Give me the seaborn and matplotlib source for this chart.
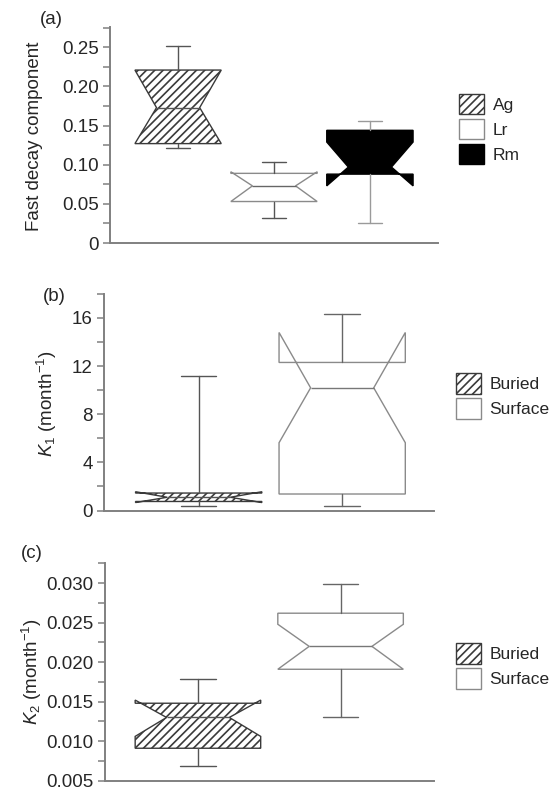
"""
Notched box plots of litter decay parameters, three stacked panels.
"""

import matplotlib

matplotlib.use("Agg")
import matplotlib.pyplot as plt
import seaborn as sns
from matplotlib.patches import Patch
from matplotlib.ticker import FuncFormatter, MultipleLocator

FIG_W, FIG_H = 555, 791
FONT_SIZE = 13.5
LEGEND_SIZE = 12.5

# (a) fast decay component per species
SPECIES = ["Ag", "Lr", "Rm"]
A_WHISLO = [0.122, 0.032, 0.026]
A_Q1 = [0.127, 0.053, 0.088]
A_CILO = [0.127, 0.053, 0.073]
A_MED = [0.173, 0.073, 0.097]
A_CIHI = [0.221, 0.091, 0.129]
A_Q3 = [0.221, 0.089, 0.144]
A_WHISHI = [0.252, 0.104, 0.156]

# (b) K1 and (c) K2 per litter position
POSITIONS = ["Buried", "Surface"]
B_WHISLO = [0.37, 0.37]
B_Q1 = [0.75, 1.37]
B_CILO = [0.66, 5.63]
B_MED = [1.10, 10.19]
B_CIHI = [1.56, 14.79]
B_Q3 = [1.45, 12.30]
B_WHISHI = [11.16, 16.30]

C_WHISLO = [0.0069, 0.0131]
C_Q1 = [0.0091, 0.0191]
C_CILO = [0.0106, 0.0191]
C_MED = [0.0130, 0.0220]
C_CIHI = [0.0152, 0.0248]
C_Q3 = [0.0148, 0.0262]
C_WHISHI = [0.0179, 0.0299]

STYLES = {
    "Ag": dict(facecolor="white", hatch="////", edgecolor="#3a3a3a", median="#555555", whisker="#555555"),
    "Lr": dict(facecolor="white", hatch=None, edgecolor="#8a8a8a", median="#666666", whisker="#555555"),
    "Rm": dict(facecolor="black", hatch=None, edgecolor="black", median="black", whisker="#9a9a9a"),
    "Buried": dict(facecolor="white", hatch="////", edgecolor="#3a3a3a", median="#555555", whisker="#555555"),
    "Surface": dict(facecolor="white", hatch=None, edgecolor="#8a8a8a", median="#777777", whisker="#666666"),
}


def px_axes(fig, left, top, right, bottom):
    return fig.add_axes([left / FIG_W, 1 - bottom / FIG_H, (right - left) / FIG_W, (bottom - top) / FIG_H])


def draw_boxes(ax, groups, whislo, q1, cilo, med, cihi, q3, whishi, width):
    stats = [
        dict(label=g, whislo=wl, q1=a, cilo=cl, med=m, cihi=ch, q3=b, whishi=wh, fliers=[])
        for g, wl, a, cl, m, ch, b, wh in zip(groups, whislo, q1, cilo, med, cihi, q3, whishi)
    ]
    art = ax.bxp(
        stats,
        positions=list(range(1, len(groups) + 1)),
        widths=width,
        capwidths=0.28 * width,
        shownotches=True,
        patch_artist=True,
        showfliers=False,
        manage_ticks=False,
        boxprops=dict(linewidth=1.0),
        whiskerprops=dict(linewidth=1.0),
        capprops=dict(linewidth=1.0),
        medianprops=dict(linewidth=1.0),
    )
    for i, g in enumerate(groups):
        st = STYLES[g]
        box = art["boxes"][i]
        box.set_facecolor(st["facecolor"])
        box.set_edgecolor(st["edgecolor"])
        if st["hatch"]:
            box.set_hatch(st["hatch"])
        art["medians"][i].set_color(st["median"])
        for line in art["whiskers"][2 * i:2 * i + 2] + art["caps"][2 * i:2 * i + 2]:
            line.set_color(st["whisker"])


def style_axes(ax, xlim, ylim, major, minor, fmt):
    ax.set_xlim(*xlim)
    ax.set_ylim(*ylim)
    ax.set_xticks([])
    ax.yaxis.set_major_locator(MultipleLocator(major))
    ax.yaxis.set_minor_locator(MultipleLocator(minor))
    ax.yaxis.set_major_formatter(FuncFormatter(fmt))
    ax.tick_params(axis="y", which="both", direction="out", length=5, width=1.1,
                   color="#808080", labelsize=FONT_SIZE, pad=3)
    sns.despine(ax=ax)
    for side in ("left", "bottom"):
        ax.spines[side].set_color("#808080")
        ax.spines[side].set_linewidth(1.4)


def add_legend(fig, ax, groups, left, top):
    handles = []
    for g in groups:
        st = STYLES[g]
        edge = "#3a3a3a" if st["hatch"] else ("black" if st["facecolor"] == "black" else "#8a8a8a")
        handles.append(Patch(facecolor=st["facecolor"], edgecolor=edge, hatch=st["hatch"], linewidth=1.0))
    ax.legend(handles, groups, loc="upper left",
              bbox_to_anchor=(left / FIG_W, 1 - top / FIG_H), bbox_transform=fig.transFigure,
              frameon=False, borderpad=0, borderaxespad=0, handlelength=1.44, handleheight=1.44,
              handletextpad=0.5, labelspacing=0.26, fontsize=LEGEND_SIZE)


def fig_text(fig, x, y, s, **kw):
    fig.text(x / FIG_W, 1 - y / FIG_H, s, ha="center", va="center", fontsize=FONT_SIZE, **kw)


def main():
    sns.set_theme(style="ticks")
    plt.rcParams["font.family"] = ["Liberation Sans", "DejaVu Sans"]
    plt.rcParams["mathtext.fontset"] = "custom"
    plt.rcParams["mathtext.rm"] = "Liberation Sans"
    plt.rcParams["mathtext.it"] = "Liberation Sans:italic"
    plt.rcParams["hatch.linewidth"] = 1.2

    fig = plt.figure(figsize=(FIG_W / 100, FIG_H / 100), dpi=100)

    # (a)
    ax_a = px_axes(fig, 110, 27.4, 438, 243)
    draw_boxes(ax_a, SPECIES, A_WHISLO, A_Q1, A_CILO, A_MED, A_CIHI, A_Q3, A_WHISHI, 0.9)
    style_axes(ax_a, (0.29, 3.71), (0, 0.2755), 0.05, 0.025,
               lambda v, _: "0" if abs(v) < 1e-9 else f"{v:.2f}")
    add_legend(fig, ax_a, SPECIES, 459, 93.7)
    fig_text(fig, 51, 20, "(a)")
    fig_text(fig, 35, 136, "Fast decay component", rotation=90)

    # (b)
    ax_b = px_axes(fig, 104, 293.6, 434, 510.5)
    draw_boxes(ax_b, POSITIONS, B_WHISLO, B_Q1, B_CILO, B_MED, B_CIHI, B_Q3, B_WHISHI, 0.88)
    style_axes(ax_b, (0.34, 2.64), (0, 18.02), 4, 2, lambda v, _: f"{v:.0f}")
    add_legend(fig, ax_b, POSITIONS, 456, 373.3)
    fig_text(fig, 54, 296.7, "(b)")
    fig_text(fig, 47, 404, r"$K_1$ (month$^{-1}$)", rotation=90)

    # (c)
    ax_c = px_axes(fig, 104.5, 563.3, 434, 780.7)
    draw_boxes(ax_c, POSITIONS, C_WHISLO, C_Q1, C_CILO, C_MED, C_CIHI, C_Q3, C_WHISHI, 0.88)
    style_axes(ax_c, (0.345, 2.655), (0.00499, 0.03252), 0.005, 0.0025, lambda v, _: f"{v:.3f}")
    add_legend(fig, ax_c, POSITIONS, 456, 643.3)
    fig_text(fig, 32, 553.3, "(c)")
    fig_text(fig, 32, 672, r"$K_2$ (month$^{-1}$)", rotation=90)

    fig.savefig("out.png", dpi=100)
    plt.close(fig)


if __name__ == "__main__":
    main()
